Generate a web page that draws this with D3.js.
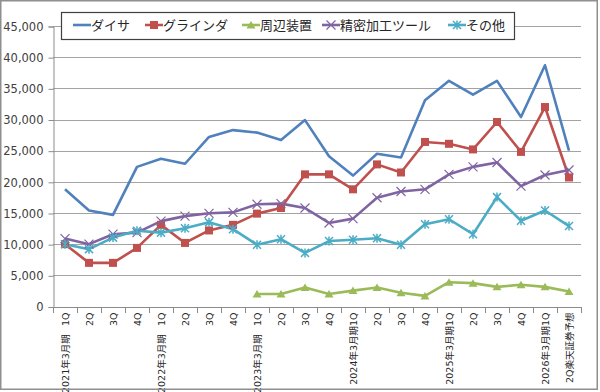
<!DOCTYPE html>
<html>
<head>
<meta charset="utf-8">
<script src="https://cdn.jsdelivr.net/npm/d3@7"></script>
<style>
body { margin: 0; background: #fff; }
</style>
</head>
<body>
<svg id="chart" width="600" height="392"></svg>
<script>
var tickLabels = ["1Q","2Q","3Q","4Q","1Q","2Q","3Q","4Q","1Q","2Q","3Q","4Q",
	"2024年3月期1Q","2Q","3Q","4Q","2025年3月期1Q","2Q","3Q","4Q","2026年3月期1Q","2Q楽天証券予想"];
var yearLabels = [{i: 0, text: "2021年3月期"}, {i: 4, text: "2022年3月期"}, {i: 8, text: "2023年3月期"}];

var dicer    = [18800,15400,14700,22400,23700,22900,27200,28300,27900,26700,29900,24100,21000,24500,23900,33100,36200,34000,36200,30400,38700,25000];
var grinder  = [10000,7000,7000,9400,13100,10200,12200,13100,14900,15800,21200,21200,18800,22800,21500,26400,26100,25200,29600,24800,32000,20700];
var periph   = [null,null,null,null,null,null,null,null,2000,2000,3050,2000,2550,3050,2200,1700,3900,3750,3150,3500,3150,2400];
var precision= [10900,10000,11600,11850,13700,14500,14950,15100,16400,16500,15800,13400,14100,17450,18450,18800,21200,22400,23100,19300,21100,21900];
var others   = [10000,9200,11050,12150,11850,12550,13500,12400,9900,10800,8600,10500,10700,10950,9900,13200,14000,11600,17550,13750,15400,12900];

var series = [
	{name: "ダイサ", values: dicer, color: "#4F81BD", marker: "none"},
	{name: "グラインダ", values: grinder, color: "#C0504D", marker: "square"},
	{name: "周辺装置", values: periph, color: "#9BBB59", marker: "triangle"},
	{name: "精密加工ツール", values: precision, color: "#8064A2", marker: "cross"},
	{name: "その他", values: others, color: "#4BACC6", marker: "star"}
];

var plotLeft = 53, plotRight = 581, plotTop = 26, plotBottom = 306.5;

var svg = d3.select("#chart");

var x = d3.scaleBand()
	.domain(d3.range(tickLabels.length))
	.range([plotLeft, plotRight]);

var y = d3.scaleLinear()
	.domain([0, 45000])
	.range([plotBottom, plotTop]);

function cx(i) { return x(i) + x.bandwidth() / 2; }

// gridlines
svg.append("g")
	.selectAll("line")
	.data(d3.range(5000, 45001, 5000))
	.enter().append("line")
	.attr("x1", plotLeft)
	.attr("x2", plotRight)
	.attr("y1", function(d) { return Math.round(y(d)) + 0.5; })
	.attr("y2", function(d) { return Math.round(y(d)) + 0.5; })
	.style("stroke", "#a3a3a3")
	.style("stroke-width", 1);

// y axis
var yAxis = svg.append("g")
	.attr("transform", "translate(" + (plotLeft + 0.5) + ",0.5)")
	.call(d3.axisLeft(y).tickValues(d3.range(0, 45001, 5000)).tickFormat(d3.format(",")).tickSize(5).tickPadding(5));
yAxis.selectAll("path, line").style("stroke", "#8c8c8c");
yAxis.selectAll("text")
	.style("font-family", "DejaVu Sans, Verdana, sans-serif")
	.style("font-size", "11.5px")
	.style("fill", "#404040");

// x axis
svg.append("line")
	.attr("x1", plotLeft).attr("x2", plotRight)
	.attr("y1", Math.round(plotBottom) + 0.5).attr("y2", Math.round(plotBottom) + 0.5)
	.style("stroke", "#8c8c8c");

svg.append("g")
	.selectAll("line")
	.data(d3.range(tickLabels.length + 1))
	.enter().append("line")
	.attr("x1", function(d) { return plotLeft + d * x.step() + 0.5; })
	.attr("x2", function(d) { return plotLeft + d * x.step() + 0.5; })
	.attr("y1", Math.round(plotBottom))
	.attr("y2", Math.round(plotBottom) + 6)
	.style("stroke", "#8c8c8c");

svg.append("g")
	.selectAll("text")
	.data(tickLabels)
	.enter().append("text")
	.attr("transform", function(d, i) { return "translate(" + (cx(i) + 3.5) + "," + (plotBottom + 6) + ") rotate(-90)"; })
	.attr("text-anchor", "end")
	.style("font-family", "DejaVu Sans, Noto Sans CJK JP, sans-serif")
	.style("font-size", "9.5px")
	.style("fill", "#262626")
	.text(function(d) { return d; });

svg.append("g")
	.selectAll("text")
	.data(yearLabels)
	.enter().append("text")
	.attr("transform", function(d) { return "translate(" + (cx(d.i) + 3.5) + "," + 393 + ") rotate(-90)"; })
	.attr("text-anchor", "start")
	.style("font-family", "DejaVu Sans, Noto Sans CJK JP, sans-serif")
	.style("font-size", "9.5px")
	.style("fill", "#262626")
	.text(function(d) { return d.text; });

// lines
var line = d3.line()
	.defined(function(d) { return d != null; })
	.x(function(d, i) { return cx(i); })
	.y(function(d) { return y(d); });

series.forEach(function(s) {
	svg.append("path")
		.datum(s.values)
		.attr("d", line)
		.style("fill", "none")
		.style("stroke", s.color)
		.style("stroke-width", 2.6)
		.style("stroke-linejoin", "round");
});

function drawMarker(g, type, color) {
	if (type == "square") {
		g.append("rect").attr("x", -4).attr("y", -4).attr("width", 8).attr("height", 8)
			.style("fill", color);
	} else if (type == "triangle") {
		g.append("path").attr("d", "M0,-4L4.5,3.5L-4.5,3.5Z").style("fill", color);
	} else if (type == "cross") {
		g.append("path").attr("d", "M-4.5,-4.5L4.5,4.5M-4.5,4.5L4.5,-4.5")
			.style("stroke", color).style("stroke-width", 1.2);
	} else if (type == "star") {
		g.append("path").attr("d", "M-4,-4L4,4M-4,4L4,-4M0,-4.5L0,4.5")
			.style("stroke", color).style("stroke-width", 1.5);
	}
}

series.forEach(function(s) {
	if (s.marker == "none") return;
	s.values.forEach(function(v, i) {
		if (v == null) return;
		var g = svg.append("g").attr("transform", "translate(" + cx(i) + "," + y(v) + ")");
		drawMarker(g, s.marker, s.color);
	});
});

// legend
var legendX = [73, 145, 242, 322, 448];
var legend = svg.append("g");
legend.append("rect")
	.attr("x", 61.5).attr("y", 12.5)
	.attr("width", 453).attr("height", 27)
	.style("fill", "#fff")
	.style("stroke", "#404040")
	.style("stroke-width", 1.2);

series.forEach(function(s, k) {
	var g = legend.append("g").attr("transform", "translate(" + legendX[k] + ",25)");
	g.append("line").attr("x1", 0).attr("x2", 18).attr("y1", 0).attr("y2", 0)
		.style("stroke", s.color).style("stroke-width", 2.6);
	var m = g.append("g").attr("transform", "translate(9,0)");
	drawMarker(m, s.marker, s.color);
	g.append("text")
		.attr("x", 18)
		.attr("y", 0)
		.attr("dy", "0.36em")
		.style("font-family", "Noto Sans CJK JP, sans-serif")
		.style("font-size", "13px")
		.style("fill", "#262626")
		.text(s.name);
});

// outer frame
svg.append("rect")
	.attr("x", 0.75).attr("y", 0.75)
	.attr("width", 596.5).attr("height", 388.5)
	.style("fill", "none")
	.style("stroke", "#8f8f8f")
	.style("stroke-width", 1.5);
</script>
</body>
</html>
